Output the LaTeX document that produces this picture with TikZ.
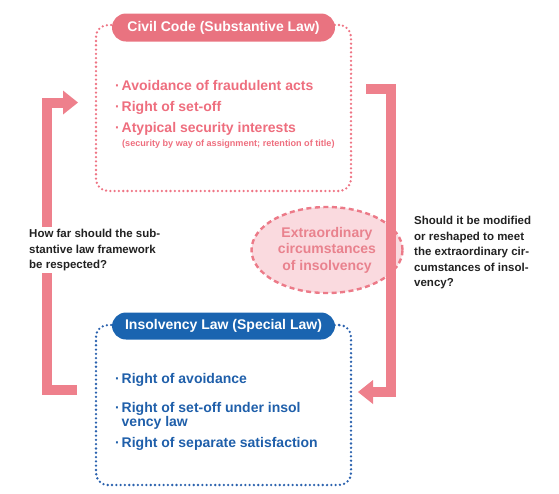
\documentclass[tikz,border=0pt]{standalone}
\usepackage{fontspec}
\setmainfont{Liberation Sans}
\usetikzlibrary{arrows.meta,shapes.geometric}
\definecolor{pinkpill}{HTML}{E97380}
\definecolor{pinkarrow}{HTML}{EE808C}
\definecolor{pinktext}{HTML}{EE6E7E}
\definecolor{pinkdot}{HTML}{EE7585}
\definecolor{ellfill}{HTML}{FADADF}
\definecolor{elldraw}{HTML}{EC7A88}
\definecolor{elltext}{HTML}{E9828E}
\definecolor{bluepill}{HTML}{1A64B0}
\definecolor{bluetext}{HTML}{1F5FAA}
\definecolor{bluedot}{HTML}{2B62AE}
\definecolor{darktext}{HTML}{222222}
\tikzset{
  dotbox/.style={draw, rectangle, rounded corners=12pt, line width=2.6pt,
    dash pattern=on 0pt off 4.3pt, line cap=round, inner sep=0pt},
  pill/.style={rectangle, rounded corners=14pt, inner sep=0pt, text=white,
    font=\fontsize{14}{16}\selectfont\bfseries, minimum width=223pt, minimum height=28pt},
  bullettext/.style={anchor=base west, inner sep=0pt, font=\fontsize{14}{16}\selectfont\bfseries},
  blockarrow/.style={draw=pinkarrow, line width=10pt, line join=miter, line cap=butt,
    -{Triangle[length=15pt,width=24pt,line width=0pt]}},
  question/.style={anchor=north west, align=left, inner sep=0pt, text=darktext,
    font=\fontsize{11.5}{15.5}\selectfont\bfseries},
}
\newcommand{\bul}{\makebox[6.5pt][l]{·}}
\begin{document}
\begin{tikzpicture}[x=1pt,y=-1pt]
\useasboundingbox (0,0) rectangle (559,493);
% boxes
\node[dotbox, draw=pinkdot, minimum width=255pt, minimum height=166pt] (civil) at (223.5,108) {};
\node[dotbox, draw=bluedot, minimum width=255pt, minimum height=160pt] (insolv) at (223.5,405) {};
\node[pill, fill=pinkpill] (civilT) at (223.5,27.5) {Civil Code (Substantive Law)};
\node[pill, fill=bluepill, minimum height=27pt] (insolvT) at (223.5,326) {Insolvency Law (Special Law)};
% civil bullets
\node[bullettext, text=pinktext] (c1) at (115,90) {\bul Avoidance of fraudulent acts};
\node[bullettext, text=pinktext] (c2) at (115,111) {\bul Right of set-off};
\node[bullettext, text=pinktext] (c3) at (115,132) {\bul Atypical security interests};
\node[anchor=base west, inner sep=0pt, text=pinktext, font=\fontsize{9.1}{10}\selectfont\bfseries] (c4) at (122,146.5) {(security by way of assignment; retention of title)};
% insolvency bullets
\node[bullettext, text=bluetext] (i1) at (115,383) {\bul Right of avoidance};
\node[bullettext, text=bluetext] (i2) at (115,412) {\bul Right of set-off under insol};
\node[bullettext, text=bluetext] (i2b) at (121.5,426) {vency law};
\node[bullettext, text=bluetext] (i3) at (115,447) {\bul Right of separate satisfaction};
% ellipse
\node[ellipse, draw=elldraw, fill=ellfill, line width=2.4pt, dash pattern=on 5pt off 3.5pt,
  minimum width=151pt, minimum height=86pt, inner sep=0pt, align=center, text=elltext,
  font=\fontsize{14}{16.5}\selectfont\bfseries] (extra) at (327,250) {Extraordinary\\circumstances\\of insolvency};
% arrows
\coordinate (lA) at (77,390);
\coordinate (lB) at (46.5,390);
\coordinate (lC) at (46.5,102.5);
\coordinate (lD) at (78,102.5);
\draw[blockarrow] (lA) -- (lB) -- (lC) -- (lD);
\coordinate (rA) at (366,88.5);
\coordinate (rB) at (391,88.5);
\coordinate (rC) at (391,392);
\coordinate (rD) at (358,392);
\draw[blockarrow] (rA) -- (rB) -- (rC) -- (rD);
% questions
\node[question, fill=white, inner sep=2pt] (qleft) at (27,227) {How far should the sub-\\stantive law framework\\be respected?};
\node[question] (qright) at (414,216) {Should it be modified\\or reshaped to meet\\the extraordinary cir-\\cumstances of insol-\\vency?};
\end{tikzpicture}
\end{document}
